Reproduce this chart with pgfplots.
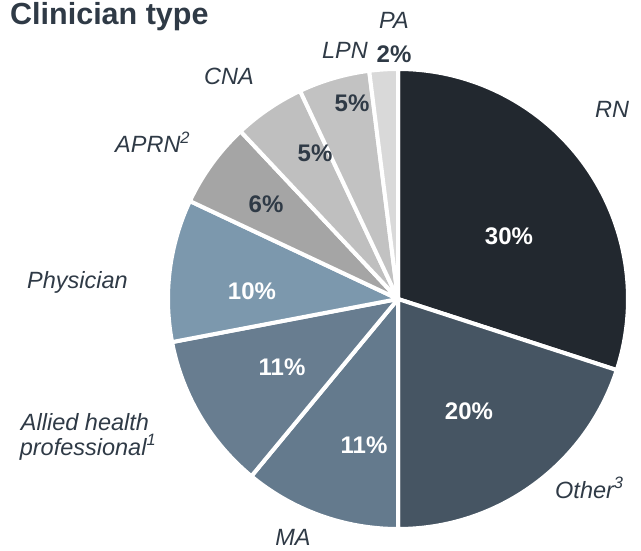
\documentclass[border=0pt]{standalone}
\usepackage{fontspec}
\setmainfont{Liberation Sans}
\usepackage{pgfplots}
\pgfplotsset{compat=1.18}
\definecolor{cRN}{HTML}{22282F}
\definecolor{cOther}{HTML}{465563}
\definecolor{cMA}{HTML}{647A8D}
\definecolor{cAllied}{HTML}{687D90}
\definecolor{cPhys}{HTML}{7C98AD}
\definecolor{cAPRN}{HTML}{A5A5A5}
\definecolor{cCNA}{HTML}{BFBFBF}
\definecolor{cLPN}{HTML}{C2C2C2}
\definecolor{cPA}{HTML}{D9D9D9}
\definecolor{txt}{HTML}{2F3A46}
\begin{document}
\begin{tikzpicture}
\begin{axis}[
  x=1pt, y=1pt,
  xmin=0, xmax=641, ymin=0, ymax=550,
  hide axis, clip=false,
]
\pgfplotsextra{
  \path (axis cs:0,0) rectangle (axis cs:641,550);
  \gdef\angA{90}
  \foreach \v/\c in {30/cRN, 20/cOther, 11/cMA, 11/cAllied, 10/cPhys, 6/cAPRN, 5/cCNA, 5/cLPN, 2/cPA}{
    \pgfmathsetmacro\angB{\angA-3.6*\v}
    \fill[\c, draw=white, line width=4pt, line join=round]
      (axis cs:398,251) -- ++(\angA:230pt) arc[start angle=\angA, end angle=\angB, radius=230pt] -- cycle;
    \xdef\angA{\angB}
  }
}
% title
\node[anchor=base west, font=\fontsize{30.5}{34}\selectfont\bfseries, text=txt, inner sep=0pt] at (axis cs:10,525) {Clinician type};
% category labels
\begin{scope}[every node/.style={font=\fontsize{23.5}{27}\selectfont\itshape, text=txt, inner sep=0pt, anchor=base}]
\node at (axis cs:394,521) {PA};
\node at (axis cs:345,491) {LPN};
\node at (axis cs:229,465) {CNA};
\node[anchor=base west] at (axis cs:115,397) {APRN\textsuperscript{2}};
\node[anchor=base west] at (axis cs:27,261) {Physician};
\node at (axis cs:85,120) {Allied health};
\node at (axis cs:88,95) {professional\textsuperscript{1}};
\node at (axis cs:293,5) {MA};
\node[anchor=base west] at (axis cs:555,52) {Other\textsuperscript{3}};
\node[anchor=base west] at (axis cs:595,432) {RN};
\end{scope}
% percentages
\begin{scope}[every node/.style={font=\fontsize{24}{27}\selectfont\bfseries, inner sep=0pt, anchor=base}]
\node[text=white] at (axis cs:509,305) {30\%};
\node[text=white] at (axis cs:469,131) {20\%};
\node[text=white] at (axis cs:364,96) {11\%};
\node[text=white] at (axis cs:282,175) {11\%};
\node[text=white] at (axis cs:252,250) {10\%};
\node[text=txt] at (axis cs:266,337) {6\%};
\node[text=txt] at (axis cs:315,388) {5\%};
\node[text=txt] at (axis cs:352,438) {5\%};
\node[text=txt] at (axis cs:394,487) {2\%};
\end{scope}
\end{axis}
\end{tikzpicture}
\end{document}
